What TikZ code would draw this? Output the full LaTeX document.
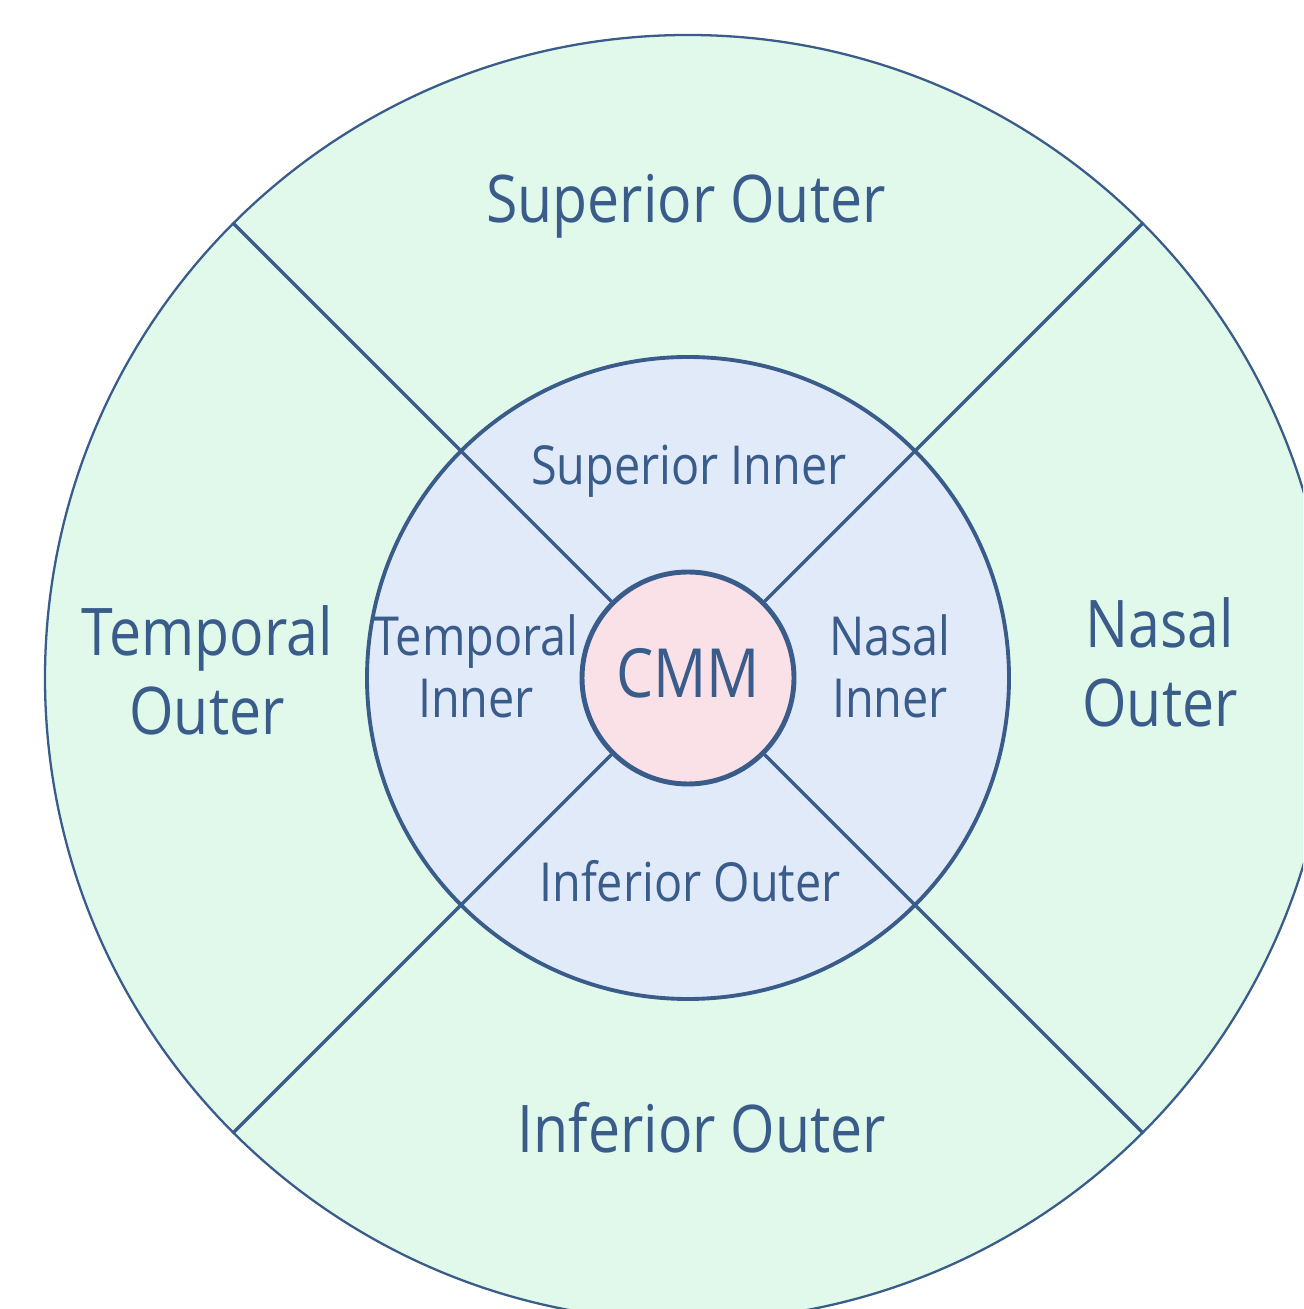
\documentclass[tikz,border=0pt]{standalone}
\usepackage{fontspec}
\setmainfont{Open Sans}[FakeStretch=0.87]
\usetikzlibrary{positioning}
\definecolor{ringline}{RGB}{58,92,138}
\definecolor{outerfill}{RGB}{224,249,234}
\definecolor{innerfill}{RGB}{225,234,249}
\definecolor{cmmfill}{RGB}{250,225,232}

\begin{document}
\begin{tikzpicture}[
  ring/.style={circle, draw=ringline, inner sep=0pt},
  sector/.style={draw=ringline, line width=0.95pt},
  outerlbl/.style={text=ringline, align=center, anchor=base, font=\fontsize{18.7}{22.5}\selectfont},
  innerlbl/.style={text=ringline, align=center, anchor=base, font=\fontsize{15.3}{17.9}\selectfont}
]
  \useasboundingbox (-6.88,-6.31) rectangle (6.15,6.78);
  \clip (-6.88,-6.31) rectangle (6.15,6.78);

  % rings
  \node[ring, fill=outerfill, line width=0.65pt, minimum size=12.86cm] (outer) at (0,0) {};
  \node[ring, fill=innerfill, line width=1.1pt, minimum size=6.42cm] (inner) at (0,0) {};
  \node[ring, fill=cmmfill, line width=1.4pt, minimum size=2.12cm, text=ringline,
        text depth=0.1cm, font=\fontsize{19.3}{22}\selectfont] (cmm) at (0,0) {CMM};

  % sector borders
  \foreach \a in {45,135,225,315}
    \draw[sector] (outer.\a) -- (cmm.\a);

  % outer ring
  \node[outerlbl] (supout) at (-0.02,4.55) {Superior Outer};
  \node[outerlbl] (infout) at (0.14,-4.74) {Inferior Outer};
  \node[outerlbl] (tempout) at (-4.81,-0.57) {Temporal\\Outer};
  \node[outerlbl] (nasout) at (4.72,-0.49) {Nasal\\Outer};

  % inner ring
  \node[innerlbl] (supin) at (0.01,1.93) {Superior Inner};
  \node[innerlbl] (infin) at (0.02,-2.24) {Inferior Outer};
  \node[innerlbl] (tempin) at (-2.12,-0.40) {Temporal\\Inner};
  \node[innerlbl] (nasin) at (2.02,-0.40) {Nasal\\Inner};
\end{tikzpicture}
\end{document}
